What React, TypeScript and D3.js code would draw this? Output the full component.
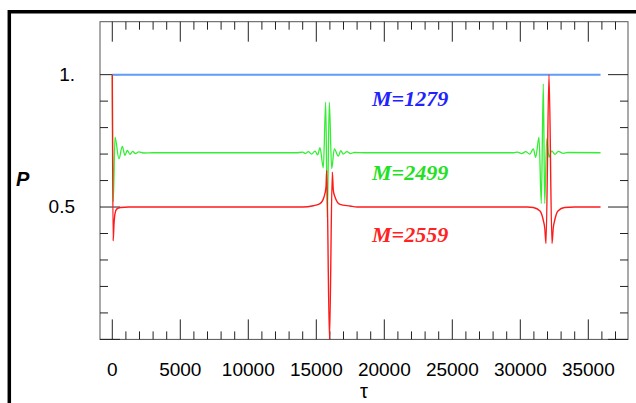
import React from 'react';
import * as d3 from 'd3';

// tau, P pairs
const blueSeries: [number, number][] = [
  [0, 1.0], [6000, 1.0], [12000, 1.0], [18000, 1.0], [24000, 1.0], [30000, 1.0], [35900, 1.0],
];

const greenSeries: [number, number][] = [
  [0, 1.0], [70, 0.52], [200, 0.764], [490, 0.682], [735, 0.729], [930, 0.695], [1100, 0.714],
  [1300, 0.699], [1500, 0.71], [1700, 0.702], [1950, 0.708], [2300, 0.704], [3000, 0.705],
  [13500, 0.705], [14000, 0.707], [14200, 0.702], [14412, 0.709], [14650, 0.7], [14905, 0.711],
  [15100, 0.697], [15272, 0.724], [15515, 0.648], [15692, 0.896], [15809, 0.462], [15956, 0.896],
  [16132, 0.645], [16324, 0.72], [16618, 0.692], [16800, 0.713], [16985, 0.7], [17250, 0.709],
  [17500, 0.702], [17800, 0.706], [18500, 0.705], [29500, 0.705], [29800, 0.707], [30100, 0.702],
  [30400, 0.709], [30700, 0.7], [30956, 0.72], [31132, 0.688], [31375, 0.764], [31544, 0.513],
  [31691, 0.965], [31794, 0.513], [31942, 0.758], [32110, 0.688], [32309, 0.712], [32552, 0.699],
  [32795, 0.71], [33162, 0.703], [33500, 0.706], [35900, 0.705],
];

const redSeries: [number, number][] = [
  [0, 1.0], [60, 0.372], [130, 0.44], [200, 0.475], [320, 0.492], [600, 0.498], [1200, 0.5],
  [14000, 0.5], [14780, 0.505], [15272, 0.513], [15566, 0.538], [15713, 0.575], [15765, 0.638],
  [15970, 0.0], [16177, 0.632], [16250, 0.563], [16375, 0.538], [16743, 0.51], [17478, 0.504],
  [18000, 0.5], [30500, 0.5], [30956, 0.498], [31449, 0.485], [31691, 0.45], [31800, 0.42],
  [31890, 0.362], [32110, 1.0], [32330, 0.362], [32420, 0.42], [32530, 0.45], [32770, 0.485],
  [33260, 0.498], [34000, 0.5], [35900, 0.5],
];

const xTickLabels = [0, 5000, 10000, 15000, 20000, 25000, 30000, 35000];
const yTickLabels: [number, string][] = [[0.5, '0.5'], [1.0, '1.']];
const yMajorTicks = [0, 0.5, 1.0];
const yMinorTicks = [0.1, 0.2, 0.3, 0.4, 0.6, 0.7, 0.8, 0.9];

const curveLabels = [
  { text: 'M=1279', tau: 19100, p: 0.883, color: '#2222ff' },
  { text: 'M=2499', tau: 19100, p: 0.603, color: '#22e022' },
  { text: 'M=2559', tau: 19100, p: 0.368, color: '#ff2222' },
];

const W = 636;
const H = 403;
const left = 100, right = 628, top = 21.7, bottom = 339.4;

export default function App() {
  const x = d3.scaleLinear().domain([-904, 37919]).range([left, right]);
  const y = d3.scaleLinear().domain([0, 1.2]).range([bottom, top]);
  const line = d3.line<[number, number]>()
    .x(d => x(d[0]))
    .y(d => y(d[1]))
    .curve(d3.curveMonotoneX);

  const xMinor = d3.range(0, 38000, 1000).filter(v => v % 5000 !== 0);
  const tickColor = '#222';
  const sans = '"Liberation Sans", Arial, sans-serif';

  return (
    <svg width={W} height={H} style={{ position: 'absolute', left: 0, top: 0, background: '#fff' }}>
      {/* outer border */}
      <path d={`M9.3,${H} L9.3,11.8 L${W},11.8`} fill="none" stroke="#000" strokeWidth={3.5} />

      {/* frame */}
      <rect x={left} y={top} width={right - left} height={bottom - top} fill="none" stroke="#555" strokeWidth={1} />

      {/* x ticks, top and bottom */}
      <g stroke={tickColor} strokeWidth={1}>
        {xTickLabels.map(v => (
          <g key={'xM' + v}>
            <line x1={x(v)} x2={x(v)} y1={bottom} y2={bottom - 20} />
            <line x1={x(v)} x2={x(v)} y1={top} y2={top + 20} />
          </g>
        ))}
        {xMinor.map(v => (
          <g key={'xm' + v}>
            <line x1={x(v)} x2={x(v)} y1={bottom} y2={bottom - 8} />
            <line x1={x(v)} x2={x(v)} y1={top} y2={top + 8} />
          </g>
        ))}
        {yMajorTicks.map(v => (
          <g key={'yM' + v}>
            <line x1={left} x2={left + 20} y1={y(v)} y2={y(v)} />
            <line x1={right} x2={right - 20} y1={y(v)} y2={y(v)} />
          </g>
        ))}
        {yMinorTicks.map(v => (
          <g key={'ym' + v}>
            <line x1={left} x2={left + 8} y1={y(v)} y2={y(v)} />
            <line x1={right} x2={right - 8} y1={y(v)} y2={y(v)} />
          </g>
        ))}
      </g>

      {/* tick labels */}
      <g fontFamily={sans} fontSize={19} fill="#000">
        {xTickLabels.map(v => (
          <text key={'xl' + v} x={x(v)} y={375.7} textAnchor="middle">{v}</text>
        ))}
        {yTickLabels.map(([v, s]) => (
          <text key={'yl' + v} x={75} y={y(v) + 6.3} textAnchor="end">{s}</text>
        ))}
      </g>

      {/* axis titles */}
      <text x={(left + right) / 2} y={398} textAnchor="middle" fontFamily={sans} fontSize={20}>τ</text>
      <text x={16} y={186} fontFamily={sans} fontSize={20} fontWeight="bold" fontStyle="italic">P</text>

      {/* series */}
      <path d={line(blueSeries) || ''} fill="none" stroke="#5e9df8" strokeWidth={2} />
      <path d={line(greenSeries) || ''} fill="none" stroke="#33ee33" strokeWidth={1.3} />
      <path d={line(redSeries) || ''} fill="none" stroke="#ff1a1a" strokeWidth={1.4} />

      {/* curve labels */}
      {curveLabels.map(l => (
        <text key={l.text} x={x(l.tau)} y={y(l.p)} fill={l.color}
          fontFamily='"Liberation Serif", "Times New Roman", serif' fontSize={22}
          fontWeight="bold" fontStyle="italic">{l.text}</text>
      ))}
    </svg>
  );
}
